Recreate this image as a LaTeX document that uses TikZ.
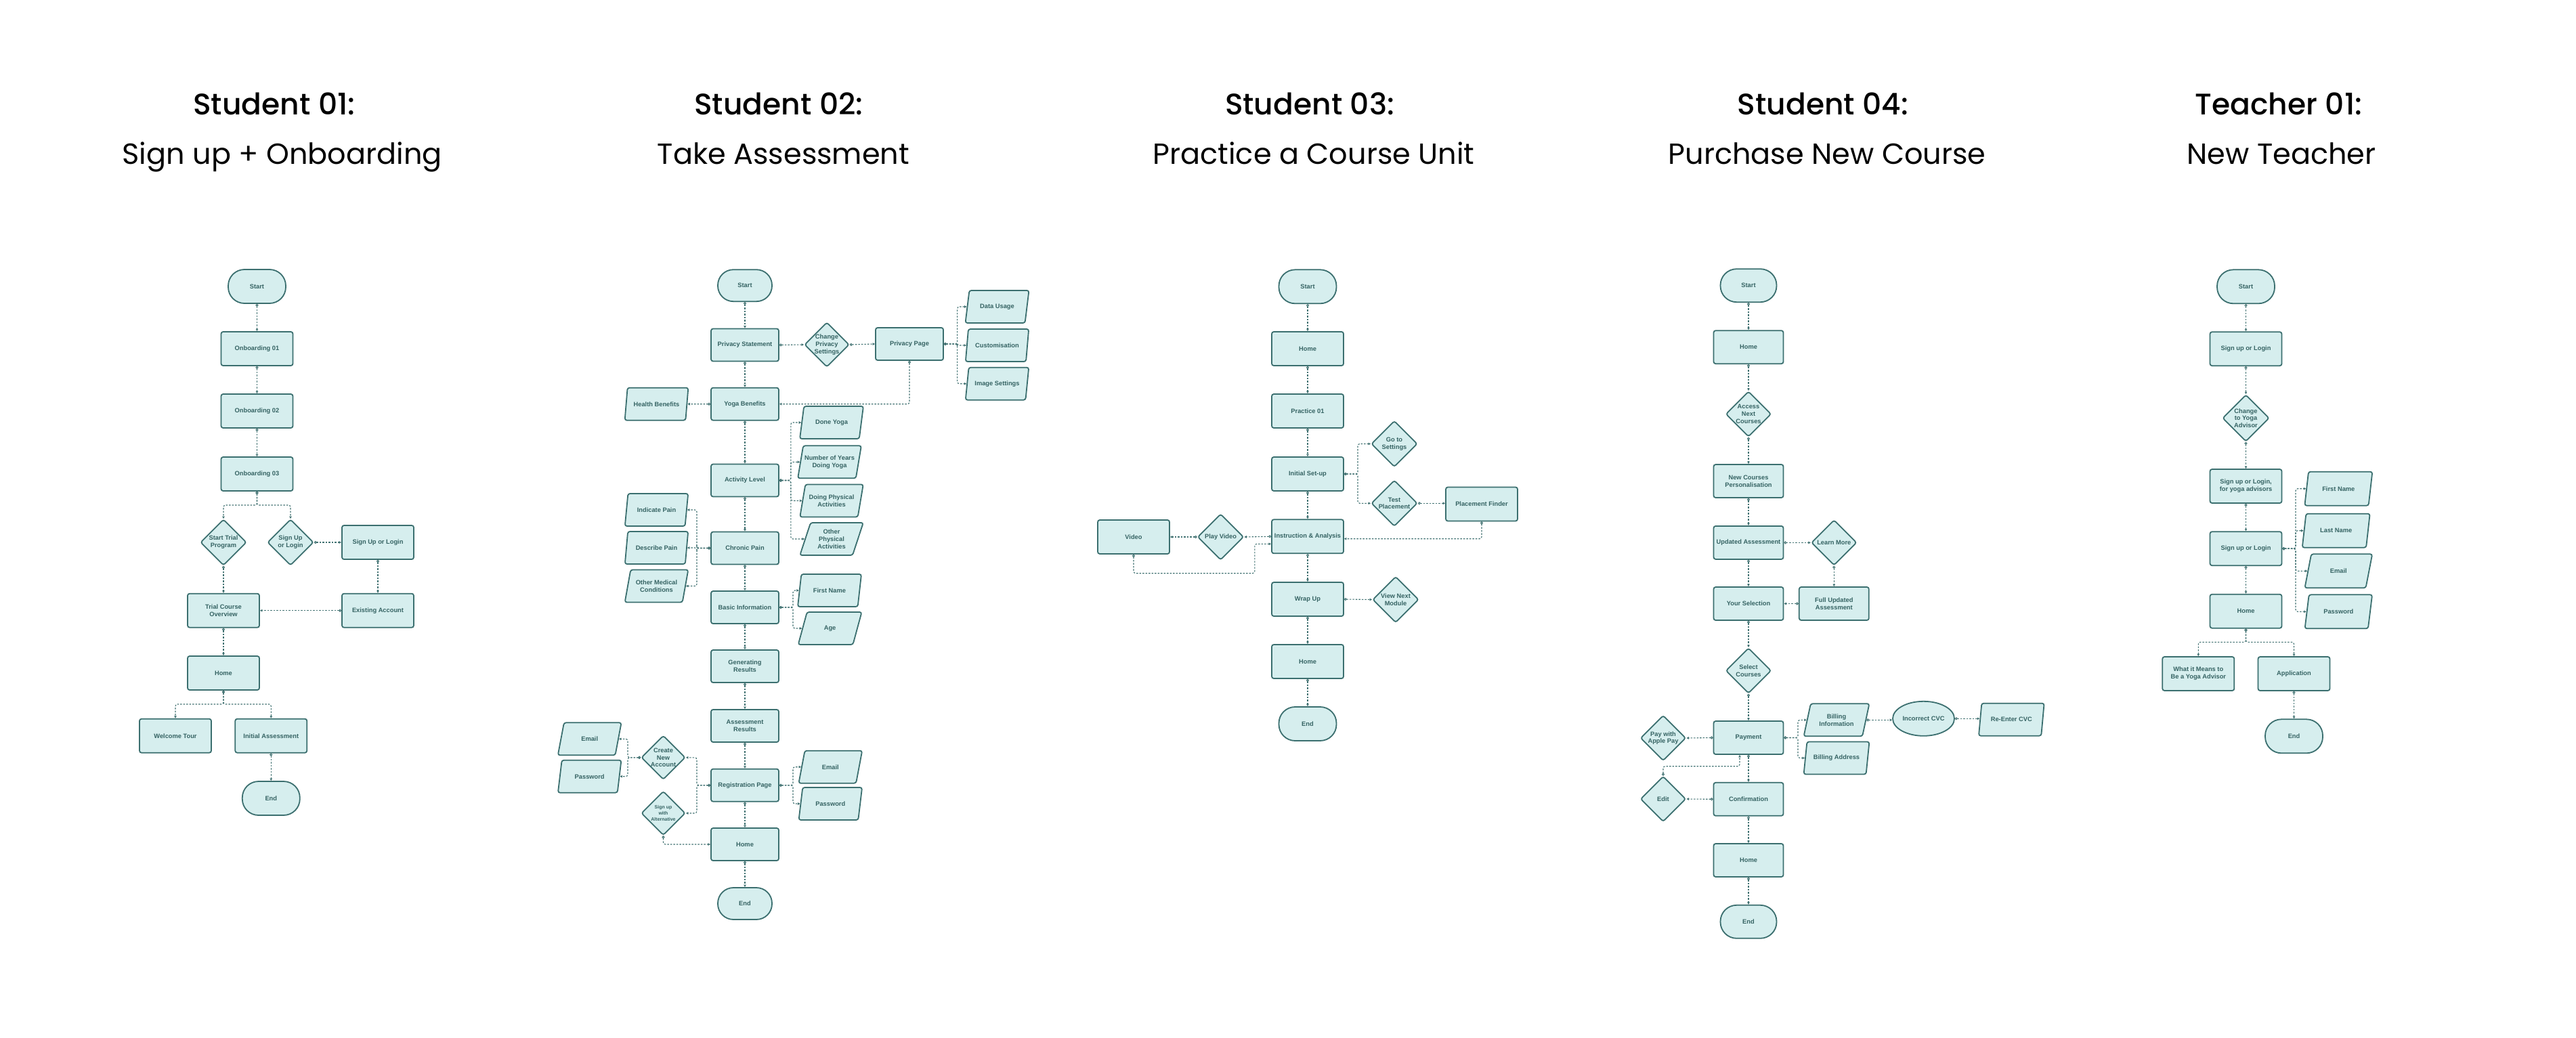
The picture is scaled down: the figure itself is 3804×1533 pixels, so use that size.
\documentclass[tikz,border=0pt]{standalone}
\usepackage{fontspec}
\setmainfont{Liberation Sans}
\newfontfamily\titlefont{Poppins}
\newfontfamily\titlemed{Poppins Medium}
\usetikzlibrary{shapes.geometric,arrows.meta,calc}
\definecolor{nfill}{HTML}{D6EEEE}
\definecolor{ndraw}{HTML}{3B6F6F}
\definecolor{ntext}{HTML}{356363}
\definecolor{lcol}{HTML}{437373}
\tikzset{
 base/.style={draw=ndraw, fill=nfill, line width=1.8pt, text=ntext, font=\fontsize{9.3}{10.8}\selectfont\bfseries, align=center, inner sep=1pt},
 box/.style={base, rectangle, rounded corners=3pt, minimum width=106pt, minimum height=50pt},
 term/.style={base, rectangle, rounded corners=24pt, minimum width=85pt, minimum height=50pt},
 para/.style={base, trapezium, trapezium left angle=70, trapezium right angle=110, trapezium stretches=true, rounded corners=3pt, minimum width=100pt, minimum height=48pt},
 dia/.style={base, diamond, rounded corners=3pt, minimum width=68pt, minimum height=68pt, inner sep=0pt},
 dtext/.style={text=ntext, font=\fontsize{9.3}{10.8}\selectfont\bfseries, align=center, inner sep=0pt},
 oval/.style={base, ellipse, minimum width=91pt, minimum height=51pt},
 conn/.style={draw=lcol, line width=1.1pt, dash pattern=on 2.5pt off 2pt, rounded corners=3pt, {Circle[open,length=4pt,width=4pt,line width=1pt]}-{Triangle[length=3.5pt,width=3.5pt]}},
 ttl/.style={font=\titlemed\fontsize{44}{52}\selectfont, text=black, anchor=base, inner sep=0pt},
 sub/.style={font=\titlefont\fontsize{43}{52}\selectfont, text=black, anchor=base, inner sep=0pt},
}
\begin{document}
\begin{tikzpicture}[x=1pt,y=-1pt]
\useasboundingbox[fill=white] (0,0) rectangle (3804,1533);
% ---------------- titles
\node[ttl] (t1a) at (405,170) {Student 01:};
\node[sub] (t1b) at (416.7,243) {Sign up + Onboarding};
\node[ttl] (t2a) at (1150,170) {Student 02:};
\node[sub] (t2b) at (1157,243) {Take Assessment};
\node[ttl] (t3a) at (1934,170) {Student 03:};
\node[sub] (t3b) at (1940,243) {Practice a Course Unit};
\node[ttl] (t4a) at (2692,170) {Student 04:};
\node[sub] (t4b) at (2698,243) {Purchase New Course};
\node[ttl] (t5a) at (3365,170) {Teacher 01:};
\node[sub] (t5b) at (3369,243) {New Teacher};
% ---------------- column 1
\node[term] (a-start) at (379.5,423) {Start};
\node[box] (a-on1) at (379.5,515) {Onboarding 01};
\node[box] (a-on2) at (379.5,607) {Onboarding 02};
\node[box] (a-on3) at (379.5,700) {Onboarding 03};
\node[dia, label={[dtext]center:{Start Trial\\Program}}] (a-trial) at (330,801) {};
\node[dia, label={[dtext]center:{Sign Up\\or Login}}] (a-sud) at (429,801) {};
\node[box] (a-sul) at (558,801) {Sign Up or Login};
\node[box] (a-tco) at (330,901.7) {Trial Course\\Overview};
\node[box] (a-exist) at (558,901.7) {Existing Account};
\node[box] (a-home) at (330,994) {Home};
\node[box] (a-wt) at (259,1086.7) {Welcome Tour};
\node[box] (a-ia) at (400.3,1086.7) {Initial Assessment};
\node[term] (a-end) at (400.3,1179) {End};
\coordinate (a-j1) at (379.5,746);
\coordinate (a-j2) at (330,1040);
\draw[conn] (a-start.south) -- (a-on1.north);
\draw[conn] (a-on1.south) -- (a-on2.north);
\draw[conn] (a-on2.south) -- (a-on3.north);
\draw[conn] (a-on3.south) -- (a-j1) -| (a-trial.north);
\draw[conn] (a-on3.south) -- (a-j1) -| (a-sud.north);
\draw[conn] (a-sud.east) -- (a-sul.west);
\draw[conn] (a-sul.south) -- (a-exist.north);
\draw[conn] (a-exist.west) -- (a-tco.east);
\draw[conn] (a-trial.south) -- (a-tco.north);
\draw[conn] (a-tco.south) -- (a-home.north);
\draw[conn] (a-home.south) -- (a-j2) -| (a-wt.north);
\draw[conn] (a-home.south) -- (a-j2) -| (a-ia.north);
\draw[conn] (a-ia.south) -- (a-end.north);
% ---------------- column 2
\begin{scope}[box/.append style={minimum width=100pt, minimum height=48pt}, para/.append style={minimum width=94pt}]
\node[term, minimum width=80pt, minimum height=47pt, rounded corners=23pt] (b-start) at (1100,421.7) {Start};
\node[box] (b-ps) at (1100,509.5) {Privacy Statement};
\node[dia, minimum width=66pt, minimum height=66pt, label={[dtext]center:{Change\\Privacy\\Settings}}] (b-cps) at (1221,509) {};
\node[box] (b-pp) at (1343,508) {Privacy Page};
\node[para] (b-du) at (1472.5,453) {Data Usage};
\node[para] (b-cu) at (1472.5,510) {Customisation};
\node[para] (b-is) at (1472.5,566.7) {Image Settings};
\node[box] (b-yb) at (1100,596.7) {Yoga Benefits};
\node[para] (b-hb) at (969.5,596.7) {Health Benefits};
\node[para] (b-dy) at (1228,624) {Done Yoga};
\node[para] (b-ny) at (1225,682.3) {Number of Years\\Doing Yoga};
\node[box] (b-al) at (1100,709.5) {Activity Level};
\node[para] (b-dp) at (1228,739.5) {Doing Physical\\Activities};
\node[para] (b-op) at (1228,796) {Other\\Physical\\Activities};
\node[para] (b-ip) at (969.5,753) {Indicate Pain};
\node[para] (b-dsp) at (969.5,809) {Describe Pain};
\node[box] (b-cp) at (1100,809.5) {Chronic Pain};
\node[para] (b-om) at (969.5,865.5) {Other Medical\\Conditions};
\node[box] (b-bi) at (1100,897) {Basic Information};
\node[para] (b-fn) at (1225,872) {First Name};
\node[para] (b-age) at (1225.6,928) {Age};
\node[box] (b-gr) at (1100,984) {Generating\\Results};
\node[box] (b-ar) at (1100,1072) {Assessment\\Results};
\node[para] (b-em1) at (870.7,1091.3) {Email};
\node[para] (b-pw1) at (870.7,1146.7) {Password};
\node[dia, minimum width=65pt, minimum height=65pt, label={[dtext]center:{Create\\New\\Account}}] (b-cna) at (979.5,1118.8) {};
\node[dia, minimum width=65pt, minimum height=65pt, label={[dtext, font=\fontsize{7}{9}\selectfont\bfseries]center:{Sign up\\with\\Alternative}}] (b-swa) at (979.5,1201) {};
\node[box] (b-rp) at (1100,1159.7) {Registration Page};
\node[para] (b-em2) at (1226.3,1132.7) {Email};
\node[para] (b-pw2) at (1226.3,1187) {Password};
\node[box] (b-home) at (1100,1247) {Home};
\node[term, minimum width=80pt, minimum height=47pt, rounded corners=23pt] (b-end) at (1100,1334.5) {End};
\end{scope}
\coordinate (b-tx1) at (1413.6,0);
\coordinate (b-tx2) at (1167.8,0);
\coordinate (b-tx3) at (1029,0);
\coordinate (b-tx4) at (1171,0);
\coordinate (b-tx5) at (927,0);
\draw[conn] (b-start.south) -- (b-ps.north);
\draw[conn] (b-ps.east) -- (b-cps.west);
\draw[conn] (b-cps.east) -- (b-pp.west);
\draw[conn] (b-pp.east) -- (b-pp.east -| b-tx1) |- (b-du.west);
\draw[conn] (b-pp.east) -- (b-pp.east -| b-tx1) |- (b-cu.west);
\draw[conn] (b-pp.east) -- (b-pp.east -| b-tx1) |- (b-is.west);
\draw[conn] (b-ps.south) -- (b-yb.north);
\draw[conn] (b-pp.south) |- (b-yb.east);
\draw[conn] (b-yb.west) -- (b-hb.east);
\draw[conn] (b-yb.south) -- (b-al.north);
\draw[conn] (b-al.east) -- (b-al.east -| b-tx2) |- (b-dy.west);
\draw[conn] (b-al.east) -- (b-al.east -| b-tx2) |- (b-ny.west);
\draw[conn] (b-al.east) -- (b-al.east -| b-tx2) |- (b-dp.west);
\draw[conn] (b-al.east) -- (b-al.east -| b-tx2) |- (b-op.west);
\draw[conn] (b-al.south) -- (b-cp.north);
\draw[conn] (b-cp.west) -- (b-cp.west -| b-tx3) |- (b-ip.east);
\draw[conn] (b-cp.west) -- (b-cp.west -| b-tx3) |- (b-dsp.east);
\draw[conn] (b-cp.west) -- (b-cp.west -| b-tx3) |- (b-om.east);
\draw[conn] (b-cp.south) -- (b-bi.north);
\draw[conn] (b-bi.east) -- (b-bi.east -| b-tx4) |- (b-fn.west);
\draw[conn] (b-bi.east) -- (b-bi.east -| b-tx4) |- (b-age.west);
\draw[conn] (b-bi.south) -- (b-gr.north);
\draw[conn] (b-gr.south) -- (b-ar.north);
\draw[conn] (b-ar.south) -- (b-rp.north);
\draw[conn] (b-rp.east) -- (b-rp.east -| b-tx4) |- (b-em2.west);
\draw[conn] (b-rp.east) -- (b-rp.east -| b-tx4) |- (b-pw2.west);
\draw[conn] (b-rp.west) -- (b-rp.west -| b-tx3) |- (b-cna.east);
\draw[conn] (b-rp.west) -- (b-rp.west -| b-tx3) |- (b-swa.east);
\draw[conn] (b-cna.west) -- (b-cna.west -| b-tx5) |- (b-em1.east);
\draw[conn] (b-cna.west) -- (b-cna.west -| b-tx5) |- (b-pw1.east);
\draw[conn] (b-swa.south) |- (b-home.west);
\draw[conn] (b-rp.south) -- (b-home.north);
\draw[conn] (b-home.south) -- (b-end.north);
% ---------------- column 3
\node[term] (c-start) at (1931,423.3) {Start};
\node[box] (c-home) at (1931,515) {Home};
\node[box] (c-p01) at (1931,607) {Practice 01};
\node[box] (c-isu) at (1931,700) {Initial Set-up};
\node[dia, label={[dtext]center:{Go to\\Settings}}] (c-gts) at (2059,655.5) {};
\node[dia, label={[dtext]center:{Test\\Placement}}] (c-tp) at (2059,743.3) {};
\node[box] (c-pf) at (2188,744.5) {Placement Finder};
\node[box] (c-ia) at (1931,792.3) {Instruction \& Analysis};
\node[dia, label={[dtext]center:{Play Video}}] (c-pv) at (1802.5,793) {};
\node[box] (c-vid) at (1674,793) {Video};
\node[box] (c-wu) at (1931,885) {Wrap Up};
\node[dia, label={[dtext]center:{View Next\\Module}}] (c-vnm) at (2061,885.5) {};
\node[box] (c-home2) at (1931,977) {Home};
\node[term] (c-end) at (1931,1069) {End};
\coordinate (c-tx) at (2005,0);
\coordinate (c-v1) at (1852.8,846.7);
\draw[conn] (c-start.south) -- (c-home.north);
\draw[conn] (c-home.south) -- (c-p01.north);
\draw[conn] (c-p01.south) -- (c-isu.north);
\draw[conn] (c-isu.east) -- (c-isu.east -| c-tx) |- (c-gts.west);
\draw[conn] (c-isu.east) -- (c-isu.east -| c-tx) |- (c-tp.west);
\draw[conn] (c-tp.east) -- (c-tp.east -| c-pf.west);
\draw[conn] (c-pf.south) |- ($(c-ia.east)+(0,3.4)$);
\draw[conn] (c-isu.south) -- (c-ia.north);
\draw[conn] (c-ia.west) -- (c-pv.east);
\draw[conn] (c-pv.west) -- (c-vid.east);
\draw[conn] (c-vid.south) |- (c-v1) |- ($(c-ia.west)+(0,11)$);
\draw[conn] (c-ia.south) -- (c-wu.north);
\draw[conn] (c-wu.east) -- (c-vnm.west);
\draw[conn] (c-wu.south) -- (c-home2.north);
\draw[conn] (c-home2.south) -- (c-end.north);
% ---------------- column 4
\begin{scope}[box/.append style={minimum width=103pt, minimum height=49pt}, para/.append style={minimum width=97pt}]
\node[term, minimum width=83pt, minimum height=49pt] (d-start) at (2582,421.7) {Start};
\node[box] (d-home) at (2582,512.7) {Home};
\node[dia, minimum width=67pt, minimum height=67pt, label={[dtext]center:{Access\\Next\\Courses}}] (d-anc) at (2582,611.5) {};
\node[box] (d-ncp) at (2582,710.5) {New Courses\\Personalisation};
\node[box] (d-ua) at (2582,801.4) {Updated Assessment};
\node[dia, minimum width=67pt, minimum height=67pt, label={[dtext]center:{Learn More}}] (d-lm) at (2708.3,801.4) {};
\node[box] (d-ys) at (2582,891.5) {Your Selection};
\node[box] (d-fua) at (2708.3,891.5) {Full Updated\\Assessment};
\node[dia, minimum width=67pt, minimum height=67pt, label={[dtext]center:{Select\\Courses}}] (d-sc) at (2582,990.5) {};
\node[box] (d-pay) at (2582,1089.5) {Payment};
\node[dia, minimum width=67pt, minimum height=67pt, label={[dtext]center:{Pay with\\Apple Pay}}] (d-apl) at (2456,1090) {};
\node[para] (d-bi) at (2712,1063.3) {Billing\\Information};
\node[para] (d-ba) at (2712,1119.5) {Billing Address};
\node[oval] (d-cvc) at (2840.5,1061.3) {Incorrect CVC};
\node[para] (d-rcvc) at (2970.3,1062.7) {Re-Enter CVC};
\node[dia, minimum width=67pt, minimum height=67pt, label={[dtext]center:{Edit}}] (d-edit) at (2456,1180) {};
\node[box] (d-conf) at (2582,1180.3) {Confirmation};
\node[box] (d-home2) at (2582,1270.5) {Home};
\node[term, minimum width=83pt, minimum height=49pt] (d-end) at (2582,1361.3) {End};
\end{scope}
\coordinate (d-tx) at (2655,0);
\coordinate (d-e1) at (2569,1131.7);
\draw[conn] (d-start.south) -- (d-home.north);
\draw[conn] (d-home.south) -- (d-anc.north);
\draw[conn] (d-anc.south) -- (d-ncp.north);
\draw[conn] (d-ncp.south) -- (d-ua.north);
\draw[conn] (d-ua.east) -- (d-lm.west);
\draw[conn] (d-lm.south) -- (d-fua.north);
\draw[conn] (d-fua.west) -- (d-ys.east);
\draw[conn] (d-ua.south) -- (d-ys.north);
\draw[conn] (d-ys.south) -- (d-sc.north);
\draw[conn] (d-sc.south) -- (d-pay.north);
\draw[conn] (d-pay.west) -- (d-apl.east);
\draw[conn] (d-pay.east) -- (d-pay.east -| d-tx) |- (d-bi.west);
\draw[conn] (d-pay.east) -- (d-pay.east -| d-tx) |- (d-ba.west);
\draw[conn] (d-bi.east) -- (d-bi.east -| d-cvc.west);
\draw[conn] (d-cvc.east) -- (d-cvc.east -| d-rcvc.west);
\draw[conn] (d-pay.south) -- (d-conf.north);
\draw[conn] (d-conf.west) -- (d-edit.east);
\draw[conn] (d-edit.north) |- (d-e1) -- (d-e1 |- d-pay.south);
\draw[conn] (d-conf.south) -- (d-home2.north);
\draw[conn] (d-home2.south) -- (d-end.north);
% ---------------- column 5
\begin{scope}[para/.append style={minimum height=50pt}]
\node[term] (e-start) at (3316.5,423.3) {Start};
\node[box] (e-sul) at (3316.5,515.2) {Sign up or Login};
\node[dia, minimum width=69pt, minimum height=69pt, label={[dtext]center:{Change\\to Yoga\\Advisor}}] (e-cya) at (3316.5,617.5) {};
\node[box] (e-sula) at (3316.5,718) {Sign up or Login,\\for yoga advisors};
\node[box] (e-sul2) at (3316.5,810.2) {Sign up or Login};
\node[box] (e-home) at (3316.5,902.7) {Home};
\node[para] (e-fn) at (3453.3,721.7) {First Name};
\node[para] (e-ln) at (3449.7,783.7) {Last Name};
\node[para] (e-em) at (3453.3,843.3) {Email};
\node[para] (e-pw) at (3453.3,903.3) {Password};
\node[box] (e-wim) at (3246.3,995) {What it Means to\\Be a Yoga Advisor};
\node[box] (e-app) at (3387.5,995) {Application};
\node[term] (e-end) at (3387.5,1087.3) {End};
\end{scope}
\coordinate (e-tx) at (3390,0);
\coordinate (e-j) at (3316.5,948.3);
\draw[conn] (e-start.south) -- (e-sul.north);
\draw[conn] (e-sul.south) -- (e-cya.north);
\draw[conn] (e-cya.south) -- (e-sula.north);
\draw[conn] (e-sula.south) -- (e-sul2.north);
\draw[conn] (e-sul2.east) -- (e-sul2.east -| e-tx) |- (e-fn.west);
\draw[conn] (e-sul2.east) -- (e-sul2.east -| e-tx) |- (e-ln.west);
\draw[conn] (e-sul2.east) -- (e-sul2.east -| e-tx) |- (e-em.west);
\draw[conn] (e-sul2.east) -- (e-sul2.east -| e-tx) |- (e-pw.west);
\draw[conn] (e-sul2.south) -- (e-home.north);
\draw[conn] (e-home.south) -- (e-j) -| (e-wim.north);
\draw[conn] (e-home.south) -- (e-j) -| (e-app.north);
\draw[conn] (e-app.south) -- (e-end.north);
\end{tikzpicture}
\end{document}
